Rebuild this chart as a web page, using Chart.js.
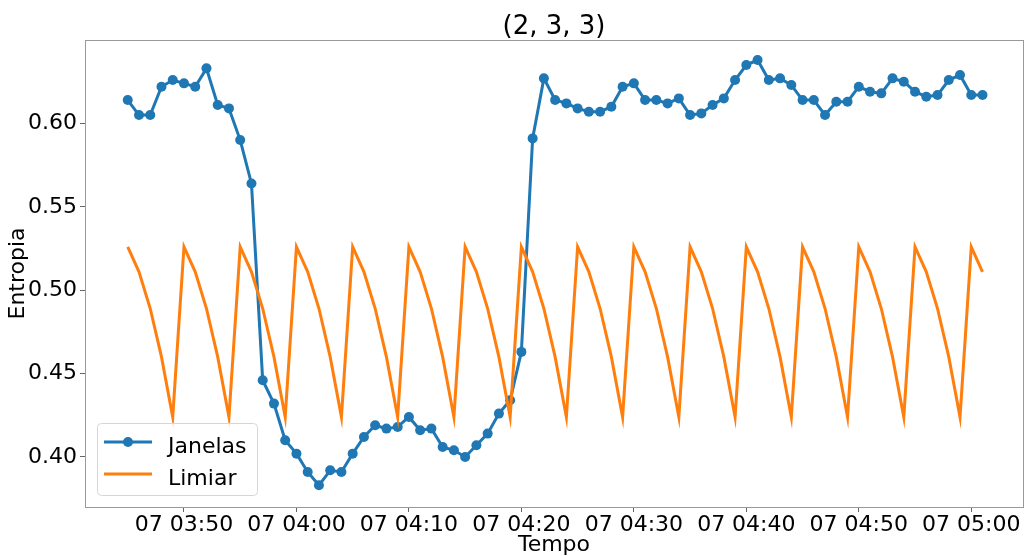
<!DOCTYPE html>
<html>
<head>
<meta charset="utf-8">
<script src="https://cdn.jsdelivr.net/npm/chart.js@4/dist/chart.umd.min.js"></script>
<style>
  html, body { margin: 0; padding: 0; background: #fff; }
  #chart { display: block; }
</style>
</head>
<body>
<canvas id="chart" width="1028" height="556"></canvas>
<script>
const TITLE = '(2, 3, 3)';

const TIMES = [
  '03:45', '03:46', '03:47', '03:48', '03:49', '03:50', '03:51', '03:52', '03:53', '03:54',
  '03:55', '03:56', '03:57', '03:58', '03:59', '04:00', '04:01', '04:02', '04:03', '04:04',
  '04:05', '04:06', '04:07', '04:08', '04:09', '04:10', '04:11', '04:12', '04:13', '04:14',
  '04:15', '04:16', '04:17', '04:18', '04:19', '04:20', '04:21', '04:22', '04:23', '04:24',
  '04:25', '04:26', '04:27', '04:28', '04:29', '04:30', '04:31', '04:32', '04:33', '04:34',
  '04:35', '04:36', '04:37', '04:38', '04:39', '04:40', '04:41', '04:42', '04:43', '04:44',
  '04:45', '04:46', '04:47', '04:48', '04:49', '04:50', '04:51', '04:52', '04:53', '04:54',
  '04:55', '04:56', '04:57', '04:58', '04:59', '05:00', '05:01',
];

const JANELAS = [
  0.614, 0.605, 0.605, 0.622, 0.626, 0.624, 0.622, 0.633, 0.611, 0.609,
  0.590, 0.564, 0.446, 0.432, 0.410, 0.402, 0.391, 0.383, 0.392, 0.391,
  0.402, 0.412, 0.419, 0.417, 0.418, 0.424, 0.416, 0.417, 0.406, 0.404,
  0.400, 0.407, 0.414, 0.426, 0.434, 0.463, 0.591, 0.627, 0.614, 0.612,
  0.609, 0.607, 0.607, 0.610, 0.622, 0.624, 0.614, 0.614, 0.612, 0.615,
  0.605, 0.606, 0.611, 0.615, 0.626, 0.635, 0.638, 0.626, 0.627, 0.623,
  0.614, 0.614, 0.605, 0.613, 0.613, 0.622, 0.619, 0.618, 0.627, 0.625,
  0.619, 0.616, 0.617, 0.626, 0.629, 0.617, 0.617,
];

const LIMIAR = [
  0.526, 0.511, 0.489, 0.460, 0.424, 0.526, 0.511, 0.489, 0.460, 0.424,
  0.526, 0.511, 0.489, 0.460, 0.424, 0.526, 0.511, 0.489, 0.460, 0.424,
  0.526, 0.511, 0.489, 0.460, 0.424, 0.526, 0.511, 0.489, 0.460, 0.424,
  0.526, 0.511, 0.489, 0.460, 0.424, 0.526, 0.511, 0.489, 0.460, 0.424,
  0.526, 0.511, 0.489, 0.460, 0.424, 0.526, 0.511, 0.489, 0.460, 0.424,
  0.526, 0.511, 0.489, 0.460, 0.424, 0.526, 0.511, 0.489, 0.460, 0.424,
  0.526, 0.511, 0.489, 0.460, 0.424, 0.526, 0.511, 0.489, 0.460, 0.424,
  0.526, 0.511, 0.489, 0.460, 0.424, 0.526, 0.511,
];

const X_TICKS = ['03:50', '04:00', '04:10', '04:20', '04:30', '04:40', '04:50', '05:00'];
const X_TICK_LABELS = ['07 03:50', '07 04:00', '07 04:10', '07 04:20', '07 04:30', '07 04:40', '07 04:50', '07 05:00'];
const Y_TICKS = [0.40, 0.45, 0.50, 0.55, 0.60];

const FONT = '"DejaVu Sans", Verdana, sans-serif';
Chart.defaults.font.family = FONT;
Chart.defaults.color = '#000';

function toMin(t) {
  const p = t.split(':');
  return +p[0] * 60 + +p[1];
}

function series(values) {
  return TIMES.map((t, i) => ({ x: toMin(t), y: values[i] }));
}

// title centred over the plot area, like matplotlib does
const titlePlugin = {
  id: 'plotTitle',
  afterDraw(chart) {
    const ctx = chart.ctx;
    const a = chart.chartArea;
    ctx.save();
    ctx.font = '26px ' + FONT;
    ctx.fillStyle = '#000';
    ctx.textAlign = 'center';
    ctx.textBaseline = 'alphabetic';
    ctx.fillText(TITLE, (a.left + a.right) / 2, 34);
    ctx.restore();
  },
};

// four spines round the plot
const framePlugin = {
  id: 'frame',
  afterDraw(chart) {
    const ctx = chart.ctx;
    const a = chart.chartArea;
    ctx.save();
    ctx.strokeStyle = '#999';
    ctx.lineWidth = 1;
    ctx.strokeRect(Math.round(a.left) + 0.5, Math.round(a.top) + 0.5,
      Math.round(a.right - a.left), Math.round(a.bottom - a.top));
    ctx.restore();
  },
};

// legend box in the lower left corner of the plot
const legendPlugin = {
  id: 'innerLegend',
  afterDraw(chart) {
    const ctx = chart.ctx;
    const a = chart.chartArea;
    const x = a.left + 12, y = a.bottom - 84, w = 160, h = 72, r = 4;
    ctx.save();
    ctx.beginPath();
    ctx.roundRect(x + 0.5, y + 0.5, w, h, r);
    ctx.fillStyle = 'rgba(255,255,255,0.8)';
    ctx.fill();
    ctx.strokeStyle = '#d6d6d6';
    ctx.lineWidth = 1;
    ctx.stroke();

    chart.data.datasets.forEach((ds, i) => {
      const ly = y + 19 + i * 32;
      ctx.beginPath();
      ctx.moveTo(x + 7, ly);
      ctx.lineTo(x + 55, ly);
      ctx.strokeStyle = ds.borderColor;
      ctx.lineWidth = 3;
      ctx.stroke();
      if (ds.pointRadius > 0) {
        ctx.beginPath();
        ctx.arc(x + 31, ly, ds.pointRadius, 0, Math.PI * 2);
        ctx.fillStyle = ds.borderColor;
        ctx.fill();
      }
      ctx.font = '22px ' + FONT;
      ctx.fillStyle = '#000';
      ctx.textAlign = 'left';
      ctx.textBaseline = 'alphabetic';
      ctx.fillText(ds.label, x + 71, ly + 11);
    });
    ctx.restore();
  },
};

new Chart(document.getElementById('chart').getContext('2d'), {
  type: 'line',
  data: {
    datasets: [
      {
        label: 'Janelas',
        data: series(JANELAS),
        borderColor: '#1f77b4',
        backgroundColor: '#1f77b4',
        borderWidth: 3,
        pointRadius: 5,
        pointHoverRadius: 5,
        pointBorderWidth: 0,
        tension: 0,
        order: 1,
      },
      {
        label: 'Limiar',
        data: series(LIMIAR),
        borderColor: '#ff7f0e',
        backgroundColor: '#ff7f0e',
        borderWidth: 3,
        pointRadius: 0,
        tension: 0,
        order: 0,
      },
    ],
  },
  options: {
    responsive: false,
    animation: false,
    events: [],
    layout: { padding: { top: 40, right: 3, left: 0, bottom: 0 } },
    scales: {
      x: {
        type: 'linear',
        min: 221.2,
        max: 304.6,
        afterBuildTicks: s => { s.ticks = X_TICKS.map(t => ({ value: toMin(t) })); },
        afterFit: s => { s.height = 49; },
        ticks: {
          callback: (v, i) => X_TICK_LABELS[i],
          font: { size: 22 },
          color: '#000',
          maxRotation: 0,
          autoSkip: false,
          padding: 0,
        },
        grid: { drawOnChartArea: false, drawTicks: true, tickLength: 5, color: '#666' },
        border: { display: false },
        title: { display: true, text: 'Tempo', font: { size: 22, lineHeight: 1 }, padding: { top: 0, bottom: 0 }, color: '#000' },
      },
      y: {
        min: 0.370,
        max: 0.650,
        afterBuildTicks: s => { s.ticks = Y_TICKS.map(v => ({ value: v })); },
        afterFit: s => { s.width = 85; },
        ticks: {
          callback: v => v.toFixed(2),
          font: { size: 22 },
          color: '#000',
          padding: 3,
        },
        grid: { drawOnChartArea: false, drawTicks: true, tickLength: 5, color: '#666' },
        border: { display: false },
        title: { display: true, text: 'Entropia', font: { size: 22 }, padding: { top: 5, bottom: 0 }, color: '#000' },
      },
    },
    plugins: {
      legend: { display: false },
      tooltip: { enabled: false },
      title: { display: false },
    },
  },
  plugins: [titlePlugin, framePlugin, legendPlugin],
});
</script>
</body>
</html>
